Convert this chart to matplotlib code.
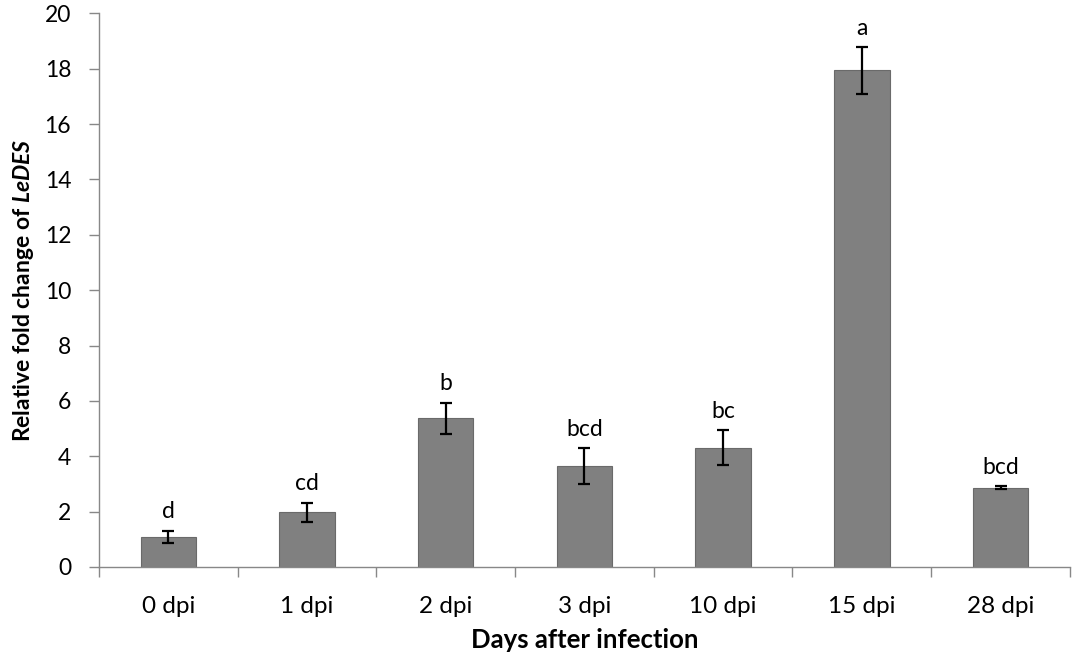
import matplotlib
matplotlib.use("Agg")
import matplotlib.pyplot as plt
import numpy as np

# values
days = ["0 dpi", "1 dpi", "2 dpi", "3 dpi", "10 dpi", "15 dpi", "28 dpi"]
fold_change = [1.09, 1.97, 5.37, 3.65, 4.31, 17.94, 2.87]
fold_err = [0.22, 0.35, 0.56, 0.65, 0.64, 0.84, 0.05]
letters = ["d", "cd", "b", "bcd", "bc", "a", "bcd"]

plt.rcParams["font.family"] = ["Lato", "DejaVu Sans"]
plt.rcParams["mathtext.fontset"] = "custom"
plt.rcParams["mathtext.it"] = "Lato:italic:bold"

fig = plt.figure(figsize=(10.84, 6.63), dpi=100)
ax = fig.add_axes([0.0913, 0.1448, 0.8957, 0.8352])

x = np.arange(len(days))
ax.bar(x, fold_change, width=0.4, color="#808080", edgecolor="#6a6a6a",
       linewidth=0.8, zorder=2)
ax.errorbar(x, fold_change, yerr=fold_err, fmt="none", ecolor="black",
            elinewidth=1.6, capsize=4.5, capthick=1.6, zorder=3)

for xi, v, e, lab in zip(x, fold_change, fold_err, letters):
    ax.annotate(lab, (xi, v + e), xytext=(0, 6), textcoords="offset points",
                ha="center", va="bottom", fontsize=16.5)

ax.set_xlim(-0.5, len(days) - 0.5)
ax.set_ylim(0, 20)
ax.set_yticks(range(0, 21, 2))

# category labels at centres, tick marks between categories
ax.set_xticks(x)
ax.set_xticklabels(days, fontsize=17.5)
ax.set_xticks(np.arange(-0.5, len(days), 1), minor=True)
ax.tick_params(axis="x", which="major", length=0, pad=21)
ax.tick_params(axis="x", which="minor", length=7, width=1, color="#888888")
ax.tick_params(axis="y", length=7, width=1, color="#888888", labelsize=16.5,
               pad=13)

for side in ["top", "right"]:
    ax.spines[side].set_visible(False)
for side in ["left", "bottom"]:
    ax.spines[side].set_color("#888888")
    ax.spines[side].set_linewidth(1)

ax.set_xlabel("Days after infection", fontsize=18.5, fontweight="bold",
              labelpad=8)
ax.set_ylabel(r"Relative fold change of $\mathit{LeDES}$", fontsize=16.5,
              fontweight="bold", labelpad=6)

fig.savefig("out.png", dpi=100)
